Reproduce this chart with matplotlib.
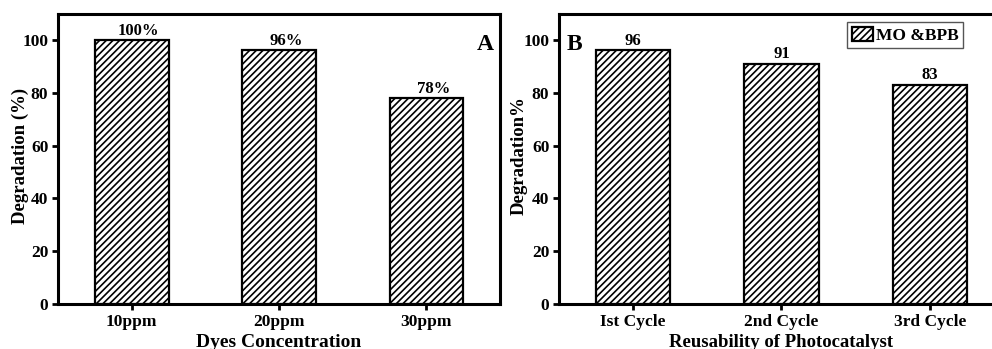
import matplotlib
matplotlib.use("Agg")
import matplotlib.pyplot as plt

# data
conc_labels = ["10ppm", "20ppm", "30ppm"]
conc_values = [100, 96, 78]
conc_text = ["100%", "96%", "78%"]

cycle_labels = ["Ist Cycle", "2nd Cycle", "3rd Cycle"]
cycle_values = [96, 91, 83]
cycle_text = ["96", "91", "83"]

plt.rcParams['font.family'] = ['Liberation Serif', 'DejaVu Serif']
plt.rcParams['font.weight'] = 'bold'
plt.rcParams['hatch.linewidth'] = 1.2

fig = plt.figure(figsize=(9.92, 3.49), dpi=100)
axA = fig.add_axes([0.0585, 0.1289, 0.4456, 0.8324])
axB = fig.add_axes([0.5635, 0.1289, 0.4486, 0.8324])


def style_axis(ax):
    for s in ax.spines.values():
        s.set_linewidth(2.2)
    ax.set_ylim(0, 110)
    ax.set_xlim(-0.5, 2.5)
    ax.set_yticks([0, 20, 40, 60, 80, 100])
    ax.tick_params(axis='both', direction='out', length=4, width=2, labelsize=12.5, pad=3)
    for lab in ax.get_xticklabels() + ax.get_yticklabels():
        lab.set_fontweight('bold')


# panel A
x = range(len(conc_labels))
axA.bar(x, conc_values, width=0.5, color='white', edgecolor='black',
        linewidth=1.6, hatch='/////')
style_axis(axA)
axA.set_xticks(list(x))
axA.set_xticklabels(conc_labels, fontsize=12.5, fontweight='bold')
for xi, v, t in zip(x, conc_values, conc_text):
    axA.annotate(t, (xi, v), xytext=(5, 1), textcoords='offset points',
                 ha='center', va='bottom', fontsize=12, fontweight='bold')
axA.set_ylabel("Degradation (%)", fontsize=13.5, fontweight='bold')
axA.yaxis.set_label_coords(-0.066, 0.51)
axA.set_xlabel("Dyes Concentration", fontsize=14, fontweight='bold', labelpad=3)
axA.text(0.985, 0.93, "A", transform=axA.transAxes, ha='right', va='top',
         fontsize=17, fontweight='bold')

# panel B
axB.bar(x, cycle_values, width=0.5, color='white', edgecolor='black',
        linewidth=1.6, hatch='/////', label='MO &BPB')
style_axis(axB)
axB.set_xticks(list(x))
axB.set_xticklabels(cycle_labels, fontsize=12.5, fontweight='bold')
for xi, v, t in zip(x, cycle_values, cycle_text):
    axB.annotate(t, (xi, v), xytext=(0, 1), textcoords='offset points',
                 ha='center', va='bottom', fontsize=12, fontweight='bold')
axB.set_ylabel("Degradation%", fontsize=13.5, fontweight='bold')
axB.yaxis.set_label_coords(-0.07, 0.51)
axB.set_xlabel("Reusability of Photocatalyst", fontsize=13.5, fontweight='bold', labelpad=3)
axB.text(0.018, 0.93, "B", transform=axB.transAxes, ha='left', va='top',
         fontsize=17, fontweight='bold')
leg = axB.legend(loc='upper left', bbox_to_anchor=(0.648, 0.97), fancybox=False,
                 framealpha=1, edgecolor='#555555', handlelength=1.2, handleheight=0.9,
                 handletextpad=0.2, borderpad=0.25, borderaxespad=0,
                 prop={'size': 12.5, 'weight': 'bold'})
leg.get_frame().set_linewidth(1.0)

fig.savefig("out.png", dpi=100)
